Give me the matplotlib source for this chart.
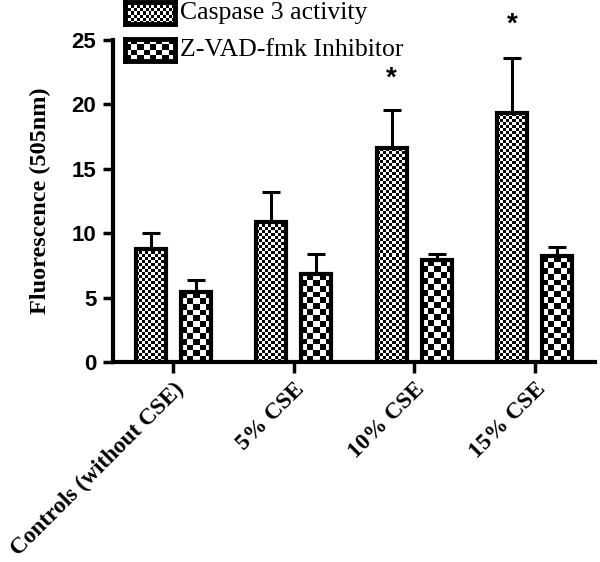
import numpy as np
import matplotlib
matplotlib.use("Agg")
import matplotlib.pyplot as plt

categories = ["Controls (without CSE)", "5% CSE", "10% CSE", "15% CSE"]
series_names = ["Caspase 3 activity", "Z-VAD-fmk Inhibitor"]
caspase = [8.8, 10.9, 16.6, 19.3]
caspase_err = [1.2, 2.3, 3.0, 4.3]
inhibitor = [5.4, 6.8, 7.9, 8.2]
inhibitor_err = [1.0, 1.6, 0.5, 0.7]
star_y = [None, None, 22.0, 26.2]
yticks = [0, 5, 10, 15, 20, 25]

W, H, DPI = 600, 562, 100
fig = plt.figure(figsize=(W / DPI, H / DPI), dpi=DPI)
ax = fig.add_axes([113 / W, 1 - 362 / H, (595 - 113) / W, (362 - 40) / H])

x = np.arange(len(categories))
bw = 0.25
off = 0.187

def checker(nx, ny):
    return (np.add.outer(np.arange(ny), np.arange(nx)) % 2).astype(float)

def fill_checker(bars, cell_px):
    px_per_x = ax.bbox.width / 4.0
    px_per_y = ax.bbox.height / 25.0
    for p in bars:
        x0, w, h = p.get_x(), p.get_width(), p.get_height()
        nx = max(1, int(round(w * px_per_x / cell_px)))
        ny = max(1, int(round(h * px_per_y / cell_px)))
        ax.imshow(checker(nx, ny), extent=(x0, x0 + w, 0, h), origin="lower",
                  cmap="gray_r", vmin=0, vmax=1, interpolation="nearest",
                  aspect="auto", zorder=2)

b1 = ax.bar(x - off, caspase, bw, facecolor="none", edgecolor="black",
            linewidth=3, zorder=3)
b2 = ax.bar(x + off, inhibitor, bw, facecolor="none", edgecolor="black",
            linewidth=3, zorder=3)
ax.set_xlim(-0.5, 3.5)
ax.set_ylim(0, 25)
fill_checker(b1, 3.0)
fill_checker(b2, 6.0)

ax.errorbar(x - off, caspase, yerr=[np.zeros(4), caspase_err], fmt="none",
            ecolor="black", elinewidth=2.2, capsize=6.5, capthick=2.2, zorder=2.5)
ax.errorbar(x + off, inhibitor, yerr=[np.zeros(4), inhibitor_err], fmt="none",
            ecolor="black", elinewidth=2.2, capsize=6.5, capthick=2.2, zorder=2.5)

for xi, sy in zip(x, star_y):
    if sy is not None:
        ax.text(xi - off, sy, "*", ha="center", va="center", fontsize=20,
                fontweight="bold", family="Liberation Sans", clip_on=False)

ax.set_xlim(-0.5, 3.5)
ax.set_ylim(0, 25)
ax.set_yticks(yticks)
ax.set_xticks(x)
ax.set_xticklabels(categories, rotation=45, ha="right", va="top",
                   rotation_mode="anchor", fontsize=16.8, fontweight="bold",
                   family="Liberation Serif")
for lab in ax.get_yticklabels():
    lab.set_fontsize(16)
    lab.set_fontweight("bold")
    lab.set_family("Liberation Sans")
ax.tick_params(axis="y", length=7, width=2.5, pad=5)
ax.tick_params(axis="x", length=8, width=2.5, pad=4)
for s in ["top", "right"]:
    ax.spines[s].set_visible(False)
for s in ["left", "bottom"]:
    ax.spines[s].set_linewidth(3)

fig.text(40 / W, 1 - 201 / H, "Fluorescence (505nm)", rotation=90,
         ha="center", va="center", fontsize=17.5, fontweight="bold",
         family="Liberation Serif")

# legend
rows = [(2, 3.0), (39, 6.0)]
for (ytop, cell), name in zip(rows, series_names):
    lax = fig.add_axes([125 / W, 1 - (ytop + 22) / H, 50 / W, 22 / H])
    nx = int(round(50 / cell)); ny = int(round(22 / cell))
    lax.imshow(checker(nx, ny), extent=(0, 1, 0, 1), cmap="gray_r", vmin=0,
               vmax=1, interpolation="nearest", aspect="auto")
    lax.set_xticks([]); lax.set_yticks([])
    for s in lax.spines.values():
        s.set_linewidth(3.5)
    fig.text(180 / W, 1 - (ytop + 11) / H, name, ha="left", va="center",
             fontsize=18.5, family="Liberation Serif")

fig.savefig("out.png", dpi=DPI)
